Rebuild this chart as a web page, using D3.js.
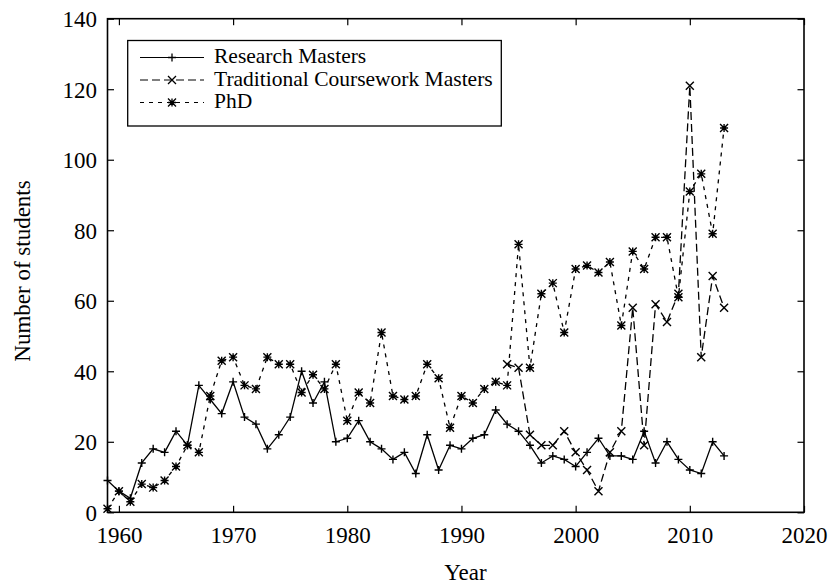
<!DOCTYPE html>
<html>
<head>
<meta charset="utf-8">
<script src="https://cdn.jsdelivr.net/npm/d3@7"></script>
<style>
  html, body { margin: 0; padding: 0; background: #fff; }
  svg { display: block; }
  text { font-family: "Liberation Serif", "Times New Roman", serif; fill: #000; }
</style>
</head>
<body>
<script>
// ---- data ----
const researchYears = d3.range(1959, 2014);
const researchMasters = [9, 6, 4, 14, 18, 17, 23, 19, 36, 32, 28, 37, 27, 25, 18, 22, 27, 40, 31, 37,
  20, 21, 26, 20, 18, 15, 17, 11, 22, 12, 19, 18, 21, 22, 29, 25, 23, 19, 14, 16,
  15, 13, 17, 21, 16, 16, 15, 23, 14, 20, 15, 12, 11, 20, 16];
const courseworkYears = d3.range(1994, 2014);
const courseworkMasters = [42, 41, 22, 19, 19, 23, 17, 12, 6, 17, 23, 58, 19, 59, 54, 62, 121, 44, 67, 58];
const phdYears = d3.range(1959, 2014);
const phd = [1, 6, 3, 8, 7, 9, 13, 19, 17, 33, 43, 44, 36, 35, 44, 42, 42, 34, 39, 35,
  42, 26, 34, 31, 51, 33, 32, 33, 42, 38, 24, 33, 31, 35, 37, 36, 76, 41, 62, 65,
  51, 69, 70, 68, 71, 53, 74, 69, 78, 78, 61, 91, 96, 79, 109];
const seriesNames = ["Research Masters", "Traditional Coursework Masters", "PhD"];
const xTicks = [1960, 1970, 1980, 1990, 2000, 2010, 2020];
const yTicks = [0, 20, 40, 60, 80, 100, 120, 140];
const xTitle = "Year";
const yTitle = "Number of students";

// ---- layout ----
const W = 833, H = 586;
const mLeft = 107.5, mRight = 804, mTop = 18.7, mBottom = 512.3;

const svg = d3.select("body").append("svg").attr("width", W).attr("height", H);

const x = d3.scaleLinear().domain([1959, 2020]).range([mLeft, mRight]);
const y = d3.scaleLinear().domain([0, 140]).range([mBottom, mTop]);

const FS = 23;
const LFS = 21.5;
const tickLen = 6.5;

// axes (ticks inward)
const gB = svg.append("g").attr("transform", `translate(0,${mBottom})`)
  .call(d3.axisBottom(x).tickValues(xTicks).tickFormat(d3.format("d")).tickSizeInner(-tickLen).tickSizeOuter(0).tickPadding(14.5));
const gT = svg.append("g").attr("transform", `translate(0,${mTop})`)
  .call(d3.axisTop(x).tickValues(xTicks).tickFormat("").tickSizeInner(-tickLen).tickSizeOuter(0));
const gL = svg.append("g").attr("transform", `translate(${mLeft},0)`)
  .call(d3.axisLeft(y).tickValues(yTicks).tickSizeInner(-tickLen).tickSizeOuter(0).tickPadding(10.5));
const gR = svg.append("g").attr("transform", `translate(${mRight},0)`)
  .call(d3.axisRight(y).tickValues(yTicks).tickFormat("").tickSizeInner(-tickLen).tickSizeOuter(0));

[gB, gT, gL, gR].forEach(g => {
  g.select(".domain").remove();
  g.selectAll(".tick line").attr("stroke", "#000").attr("stroke-width", 1.2);
  g.selectAll("text").style("font-size", FS + "px").style("font-family", '"Liberation Serif", serif').attr("fill", "#000");
});
gL.selectAll("text").attr("dy", "0.34em");

// frame
svg.append("rect").attr("x", mLeft).attr("y", mTop).attr("width", mRight - mLeft).attr("height", mBottom - mTop)
  .attr("fill", "none").attr("stroke", "#000").attr("stroke-width", 1.6);

// axis titles
svg.append("text").attr("x", 465.5).attr("y", 580).attr("text-anchor", "middle")
  .style("font-size", FS + "px").text(xTitle);
svg.append("text").attr("transform", `translate(30,271) rotate(-90)`)
  .attr("text-anchor", "middle").style("font-size", FS + "px").text(yTitle);

// markers
const ms = 4;
function plusPath(cx, cy) { return `M${cx - ms},${cy}H${cx + ms}M${cx},${cy - ms}V${cy + ms}`; }
function crossPath(cx, cy) { return `M${cx - ms},${cy - ms}L${cx + ms},${cy + ms}M${cx - ms},${cy + ms}L${cx + ms},${cy - ms}`; }
function starPath(cx, cy) { return plusPath(cx, cy) + crossPath(cx, cy); }

const series = [
  { name: seriesNames[0], years: researchYears, vals: researchMasters, dash: null, marker: plusPath },
  { name: seriesNames[1], years: courseworkYears, vals: courseworkMasters, dash: "8,4", marker: crossPath },
  { name: seriesNames[2], years: phdYears, vals: phd, dash: "4,5", marker: starPath }
];

const line = d3.line().x(d => x(d[0])).y(d => y(d[1]));

series.forEach(s => {
  const pts = s.years.map((yr, i) => [yr, s.vals[i]]);
  svg.append("path").datum(pts).attr("d", line).attr("fill", "none").attr("stroke", "#000")
    .attr("stroke-width", 1.3).attr("stroke-dasharray", s.dash);
  svg.append("path").attr("d", pts.map(p => s.marker(x(p[0]), y(p[1]))).join(""))
    .attr("fill", "none").attr("stroke", "#000").attr("stroke-width", 1.4);
});

// legend
const lg = svg.append("g");
lg.append("rect").attr("x", 127.7).attr("y", 40.5).attr("width", 501.3 - 127.7).attr("height", 126 - 40.5)
  .attr("fill", "#fff").attr("stroke", "#000").attr("stroke-width", 1.3);
series.forEach((s, i) => {
  const ly = 57.5 + i * 22.5;
  lg.append("line").attr("x1", 140).attr("x2", 204).attr("y1", ly).attr("y2", ly)
    .attr("stroke", "#000").attr("stroke-width", 1.2).attr("stroke-dasharray", s.dash);
  lg.append("path").attr("d", s.marker(172, ly)).attr("fill", "none").attr("stroke", "#000").attr("stroke-width", 1.3);
  lg.append("text").attr("x", 214).attr("y", ly + 5.5).style("font-size", LFS + "px").text(s.name);
});
</script>
</body>
</html>
